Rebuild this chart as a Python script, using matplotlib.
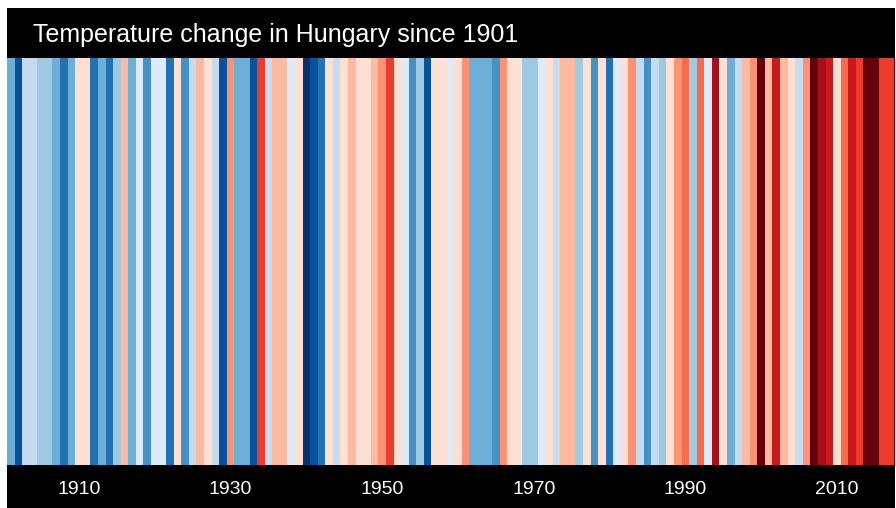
import matplotlib
matplotlib.use("Agg")
import matplotlib.pyplot as plt
from matplotlib.colors import ListedColormap, BoundaryNorm
from matplotlib.patches import Rectangle
import numpy as np

title = "Temperature change in Hungary since 1901"
years = list(range(1901, 2019))
anomaly = [
    -0.7, -1.3, -0.3, -0.3, -0.5, -0.5, -0.7, -1.1, -0.7, 0.1,   # 1901-1910
    0.1, -1.1, -0.7, -1.1, -0.5, 0.3, -0.7, -0.1, -0.9, -0.1,    # 1911-1920
    -0.1, -1.1, 0.1, -0.9, -0.3, 0.3, 0.1, -0.3, -1.3, 0.5,      # 1921-1930
    -0.7, -0.7, -1.3, 0.9, -0.3, 0.3, 0.3, -0.1, 0.1, -1.5,      # 1931-1940
    -1.3, -1.1, 0.1, -0.3, 0.1, 0.3, 0.1, 0.1, 0.3, 0.5,         # 1941-1950
    0.9, 0.1, -0.1, -0.9, -0.5, -1.3, 0.1, 0.1, -0.1, 0.1,       # 1951-1960
    0.5, -0.7, -0.7, -0.7, -0.9, 0.5, 0.1, 0.1, -0.5, -0.5,      # 1961-1970
    -0.1, 0.1, -0.3, 0.3, 0.3, -0.5, 0.1, -0.9, 0.1, -1.1,       # 1971-1980
    -0.1, 0.1, 0.5, -0.3, -0.9, -0.3, -0.5, 0.1, 0.5, 0.7,       # 1981-1990
    -0.5, 0.7, -0.1, 1.3, 0.1, -0.7, -0.3, 0.3, 0.5, 1.5,        # 1991-2000
    0.3, 1.1, 0.3, 0.1, -0.3, 0.5, 1.5, 1.3, 1.1, 0.1,           # 2001-2010
    0.7, 1.1, 0.9, 1.5, 1.5, 0.9, 0.9, 1.5,                      # 2011-2018
]
tick_years = [1910, 1930, 1950, 1970, 1990, 2010]

stripe_colors = ["#08306b", "#08519c", "#2171b5", "#4292c6", "#6baed6", "#9ecae1",
                 "#c6dbef", "#deebf7", "#fee0d2", "#fcbba1", "#fc9272", "#fb6a4a",
                 "#ef3b2c", "#cb181d", "#a50f15", "#67000d"]
cmap = ListedColormap(stripe_colors)
norm = BoundaryNorm(np.linspace(-1.6, 1.6, 17), cmap.N)

W, H = 896, 508
fig = plt.figure(figsize=(W / 100, H / 100), dpi=100)
fig.patch.set_facecolor("white")

# black frame behind everything
fig.patches.append(Rectangle((7 / W, 0), 888 / W, (H - 8) / H, transform=fig.transFigure,
                             facecolor="black", edgecolor="none", zorder=-10))

ax = fig.add_axes([7 / W, (H - 465) / H, 888 / W, (465 - 58) / H])
ax.set_zorder(5)
ax.set_facecolor("black")
ax.bar(years, [1] * len(years), width=1.0, bottom=0,
       color=cmap(norm(np.array(anomaly))), linewidth=0, antialiased=False)
px_per_year = 72 / 9.5
ax.set_xlim(1900.5, 1900.5 + 888 / px_per_year)
ax.set_ylim(0, 1)
ax.set_yticks([])
ax.set_xticks(tick_years)
ax.set_xticklabels([str(y) for y in tick_years], color="white", fontsize=14,
                   family="Liberation Sans")
ax.tick_params(axis="x", length=0, pad=11.5)
for s in ax.spines.values():
    s.set_visible(False)

fig.text(33 / W, 1 - 35 / H, title, color="white", fontsize=18,
         family="Liberation Sans", va="center", ha="left", zorder=10)

fig.savefig("out.png", dpi=100)
